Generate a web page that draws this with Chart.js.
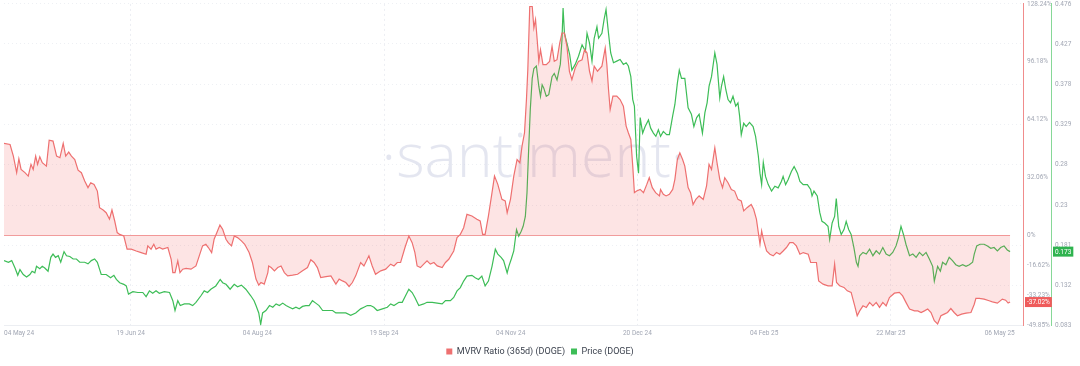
<!DOCTYPE html>
<html>
<head>
<meta charset="utf-8">
<script src="https://cdn.jsdelivr.net/npm/chart.js@4.4.1/dist/chart.umd.min.js"></script>
<style>
    html, body { margin: 0; padding: 0; background: #fff; }
    #wrap { width: 1080px; height: 366px; position: relative; }
</style>
</head>
<body>
<div id="wrap"><canvas id="chart-line"></canvas></div>
<script>
// x = days since 04 May 24
var mvrvDays = [
    0, 2.2, 3.4, 4.6, 5.4, 6.2, 7.6, 8.8, 9.8, 10.6,
    11.5, 12.2, 13.0, 13.9, 15.4, 16.4, 17.8, 19.1, 20.3, 21.5,
    22.4, 23.5, 24.5, 25.7, 26.9, 28.1, 29.3, 30.5, 31.5, 32.7,
    33.9, 34.7, 36.0, 37.1, 38.3, 39.2, 40.2, 41.1, 42.0, 43.5,
    44.7, 46.2, 48.0, 49.8, 51.6, 52.2, 53.4, 54.4, 55.2, 56.4,
    57.6, 59.5, 60.7, 61.3, 62.1, 63.1, 63.9, 64.9, 66.1, 67.9,
    69.7, 70.9, 72.1, 73.3, 74.2, 75.4, 76.3, 77.3, 78.4, 79.4,
    80.6, 81.4, 82.6, 83.6, 84.8, 86.2, 87.4, 89.0, 90.2,
    91.5, 92.5, 93.3, 94.5, 95.8, 96.1, 97.0, 98.2, 99.4, 100.6,
    101.8, 103.0, 104.8, 106.6, 108.4, 110.2, 111.4, 112.6, 113.8, 115.0,
    116.9, 118.7, 120.5, 121.7, 122.9, 124.1, 125.3, 126.5, 127.7, 129.5,
    130.7, 132.5, 133.7, 134.9, 136.8, 138.6, 140.4, 141.6, 142.8, 144.0,
    145.6, 147.0, 148.2, 149.2, 150.0, 151.2, 152.4, 153.6, 154.8, 156.1,
    157.3, 159.1, 160.3, 161.5, 163.3, 164.5, 165.7, 166.9, 168.1, 169.9,
    171.7, 172.9, 173.8, 174.7, 175.9, 177.2, 178.1, 179.3, 180.8, 182.0,
    182.7, 183.3, 183.9, 185.1, 186.3, 187.3, 188.1, 189.0, 189.7, 190.2,
    190.9, 191.8, 192.4, 193.0, 193.6, 194.2, 194.8, 195.7, 196.9, 198.1,
    199.0, 199.8, 200.8, 201.8, 202.6, 203.5, 204.4, 205.3, 206.2, 207.4,
    208.6, 209.9, 210.8, 211.7, 212.6, 213.5, 214.3, 215.5, 217.1, 218.3,
    218.9, 219.5, 220.1, 221.1, 222.5, 223.7, 224.9, 225.9, 226.7, 227.6,
    228.3, 228.9, 229.7, 231.0, 232.2, 233.4, 234.3, 235.4, 236.6, 238.0,
    238.4, 239.4, 240.4, 241.6, 242.8, 243.6, 244.5, 245.4, 246.4, 247.2,
    248.4, 249.3, 250.2, 251.2, 252.4, 253.9, 255.1, 256.0, 256.9, 258.1,
    258.9, 259.9, 260.9, 261.7, 262.9, 264.1, 265.3, 266.5, 267.7, 268.6,
    269.8, 271.3, 272.2, 273.2,
    273.9, 274.5, 275.1, 275.7, 276.9, 278.1, 279.3, 280.5, 281.7, 282.9,
    284.1, 285.3, 286.5, 287.7, 289.0, 290.2, 292.0, 292.9, 293.8, 295.0,
    295.8, 297.4, 299.2, 300.7, 301.6, 302.3, 303.4, 305.0, 306.2, 307.6,
    308.9, 309.8, 310.7, 311.9, 313.1, 314.3, 315.5, 316.7, 317.9, 319.1,
    320.3, 321.5, 323.3, 325.1, 326.3, 327.5, 328.8, 330.6, 331.8, 333.0,
    334.2, 335.4, 336.6, 337.8, 339.0, 340.2, 341.4, 342.6, 343.8, 345.0,
    346.2, 347.7, 349.3, 351.1, 352.3, 352.9, 354.1, 355.9, 357.7, 358.9,
    360.7, 362.5, 363.7, 364.6, 365.3
];
var mvrvValues = [
    50.9, 50.3, 43.9, 34.7, 42.4, 36.5, 34.7, 32.8, 39.3, 36.5,
    43.9, 39.3, 43.5, 40.2, 38.3, 52.7, 52.2, 43.9, 43.0, 50.9,
    43.9, 46.1, 43.9, 42.0, 36.1, 34.7, 30.1, 26.4, 29.1, 28.2,
    24.5, 15.3, 14.0, 12.5, 8.9, 14.0, 7.9, 1.5, 0.5, -0.4,
    -7.7, -7.7, -8.7, -9.6, -10.5, -5.9, -7.7, -5.0, -7.7, -6.8,
    -7.7, -6.8, -13.3, -20.7, -20.7, -14.2, -20.7, -18.8, -18.4, -18.8,
    -17.0, -11.4, -5.9, -5.0, -6.8, -9.6, -2.2, 1.5, 5.7, 3.3,
    -2.2, -4.1, -5.9, -0.4, -1.3, -3.1, -5.0, -9.6, -15.1,
    -24.3, -27.7, -26.2, -27.1, -20.7, -17.0, -17.9, -19.7, -17.9, -17.0,
    -20.7, -22.5, -22.1, -21.6, -19.7, -17.9, -13.6, -15.1, -17.9, -23.4,
    -22.9, -22.5, -27.1, -24.3, -25.3, -26.2, -28.4, -26.2, -22.5, -15.1,
    -17.0, -11.4, -17.0, -21.6, -19.7, -18.8, -16.0, -17.0, -15.1, -15.1,
    -6.8, -0.4, -4.1, -9.6, -17.0, -17.9, -16.0, -14.2, -16.0, -15.1,
    -17.0, -17.9, -15.1, -13.3, -8.7, -1.3, 0.5, 4.2, 11.6, 10.7,
    8.9, 7.9, 0.5, 0.5, 10.7, 23.6, 32.8, 28.2, 19.9, 19.0,
    12.5, 16.2, 19.9, 32.8, 42.0, 40.2, 49.4, 56.8, 75.2, 91.8,
    126.8, 126.8, 114.9, 119.5, 108.4, 96.4, 102.9, 94.6, 94.6, 96.4,
    104.7, 96.4, 97.3, 106.6, 112.1, 112.1, 104.7, 90.9, 86.3, 92.7,
    96.4, 97.3, 102.9, 101.0, 90.9, 85.4, 93.7, 90.9, 93.7, 103.8,
    94.6, 80.8, 69.7, 77.1, 77.1, 75.2, 71.5, 60.5, 56.8, 53.1,
    38.3, 23.6, 24.5, 25.4, 23.6, 28.2, 31.9, 26.4, 23.6, 21.8,
    25.4, 22.7, 21.8, 22.7, 25.4, 31.0, 42.0, 45.7, 42.0, 38.3,
    26.4, 23.6, 17.1, 19.9, 21.8, 19.9, 27.3, 39.3, 36.5, 48.5,
    40.2, 31.0, 26.4, 31.9, 29.1, 25.4, 24.5, 19.9, 19.0, 13.5,
    15.3, 17.1, 14.4, 8.9,
    1.5, -5.0, 2.4, -2.2, -8.7, -10.5, -11.4, -9.6, -10.5, -8.7,
    -6.8, -4.1, -4.1, -5.9, -10.5, -9.6, -10.5, -15.1, -15.1, -15.1,
    -25.3, -27.1, -28.0, -28.0, -16.0, -26.2, -28.0, -28.9, -30.8, -31.7,
    -39.1, -44.6, -41.9, -39.1, -40.0, -37.2, -39.1, -37.2, -40.0, -37.2,
    -39.1, -34.5, -32.1, -31.7, -33.6, -37.2, -40.9, -41.9, -41.9, -42.8,
    -41.9, -40.9, -42.8, -47.4, -49.2, -44.6, -43.7, -42.8, -40.6, -42.8,
    -44.6, -43.7, -43.2, -42.8, -38.2, -35.0, -35.0, -35.4, -36.3, -36.9,
    -37.6, -35.4, -36.0, -37.6, -37.02
];

var priceDays = [
    0, 1.6, 2.8, 4.0, 5.0, 5.8, 7.0, 8.2, 9.4, 10.2,
    11.2, 11.8, 13.0, 13.9, 14.8, 16.0, 17.0, 17.8, 18.7, 19.7,
    20.6, 21.8, 22.7, 23.9, 25.1, 26.3, 27.5, 29.3, 30.5, 31.7,
    32.9, 33.9, 35.3, 37.1, 38.7, 39.9, 40.8, 42.0, 43.5, 44.4,
    45.2, 46.8, 48.6, 50.4, 51.6, 52.8, 54.0, 55.2, 56.4, 58.2,
    60.1, 61.3, 62.1, 63.1, 64.0, 65.5, 67.3, 68.5, 69.7, 71.5,
    72.7, 73.9, 75.1, 76.9, 78.5, 79.4, 80.6, 82.1, 83.6, 84.8,
    86.2, 87.8, 89.6, 90.8,
    91.5, 92.5, 93.2, 93.9, 95.1, 96.4, 97.6, 98.8, 100.0, 101.2,
    102.4, 103.6, 104.8, 106.0, 107.2, 108.4, 109.6, 110.8, 112.0, 113.2,
    114.4, 115.7, 117.5, 119.3, 120.5, 121.7, 122.9, 124.1, 125.9, 127.7,
    129.5, 130.7, 131.9, 133.1, 134.3, 135.5, 137.4, 139.2, 140.4, 141.6,
    143.4, 144.6, 145.8, 147.0, 148.2, 149.2, 150.6, 152.4, 153.6, 155.5,
    157.3, 159.1, 160.3, 162.1, 163.3, 164.5, 165.7, 166.9, 168.1, 169.9,
    171.1, 172.3, 173.5, 174.7, 175.9, 177.2, 178.4, 179.3, 180.5, 181.4,
    182.7, 183.3, 184.2, 185.1, 186.1, 186.9, 187.8, 188.5, 189.3, 189.9,
    190.5, 191.1, 191.8, 192.4, 193.3, 194.2, 194.8, 195.4, 196.0, 196.9,
    197.8, 199.0, 199.8, 200.8, 201.4, 202.0, 202.6, 203.0, 203.5, 204.4,
    205.4, 206.2, 207.4, 208.6, 209.9, 211.1, 211.7, 212.6, 213.5, 214.3,
    215.3, 215.9, 217.1, 217.9, 218.6, 219.5, 220.3, 221.3, 222.5, 223.7,
    224.9, 225.9, 226.7, 227.6, 228.3, 228.9, 229.7, 230.4, 231.0, 231.9,
    232.8, 234.0, 234.8, 235.8, 236.7, 237.6, 238.4, 239.4, 240.6, 241.6,
    242.8, 243.6, 244.5, 245.2, 246.0, 247.2, 248.4, 249.6, 250.5, 251.5,
    252.4, 253.6, 254.5, 255.3, 256.0, 256.9, 258.1, 258.9, 259.9, 260.5,
    261.3, 262.1, 262.9, 263.8, 264.7, 265.7, 266.5, 267.1, 267.7, 268.6,
    269.5, 270.7, 272.0, 272.9,
    273.9, 274.5, 275.1, 275.7, 276.5, 277.5, 278.7, 279.9, 281.1, 282.3,
    282.9, 283.8, 284.7, 285.9, 286.9, 288.1, 289.0, 290.2, 291.7, 292.9,
    293.4, 294.1, 295.3, 296.2, 297.0, 298.0, 299.2, 299.8, 300.7, 301.6,
    302.2, 303.1, 304.0, 305.0, 305.8, 306.7, 307.6, 308.6, 309.5, 310.1,
    310.7, 311.9, 313.1, 314.3, 315.5, 316.7, 317.9, 319.1, 320.3, 321.5,
    322.7, 323.9, 324.8, 325.7, 326.6, 327.5, 328.8, 330.0, 331.2, 332.4,
    333.6, 334.8, 336.0, 337.2, 337.8, 339.0, 340.0, 340.8, 342.0, 343.2,
    344.4, 345.6, 346.8, 348.1, 349.3, 350.5, 351.7, 352.3, 353.2, 354.4,
    355.9, 357.1, 358.3, 359.5, 360.7, 361.9, 363.1, 364.3, 365.3
];
var priceValues = [
    0.162, 0.160, 0.162, 0.153, 0.144, 0.151, 0.145, 0.142, 0.145, 0.149,
    0.147, 0.155, 0.152, 0.155, 0.153, 0.149, 0.166, 0.170, 0.166, 0.168,
    0.160, 0.173, 0.168, 0.167, 0.164, 0.164, 0.160, 0.160, 0.158, 0.162,
    0.164, 0.160, 0.145, 0.145, 0.141, 0.144, 0.139, 0.135, 0.133, 0.131,
    0.121, 0.124, 0.123, 0.123, 0.118, 0.125, 0.122, 0.125, 0.122, 0.124,
    0.123, 0.113, 0.101, 0.113, 0.107, 0.109, 0.109, 0.107, 0.111, 0.119,
    0.125, 0.123, 0.127, 0.131, 0.139, 0.135, 0.133, 0.127, 0.133, 0.130,
    0.132, 0.127, 0.119, 0.113,
    0.107, 0.098, 0.084, 0.098, 0.101, 0.107, 0.105, 0.109, 0.107, 0.110,
    0.107, 0.105, 0.103, 0.105, 0.103, 0.106, 0.107, 0.107, 0.113, 0.110,
    0.107, 0.101, 0.101, 0.101, 0.098, 0.098, 0.098, 0.098, 0.095, 0.098,
    0.103, 0.105, 0.107, 0.107, 0.105, 0.101, 0.103, 0.105, 0.109, 0.107,
    0.111, 0.111, 0.119, 0.127, 0.123, 0.117, 0.107, 0.109, 0.111, 0.111,
    0.110, 0.109, 0.113, 0.113, 0.117, 0.125, 0.129, 0.137, 0.143, 0.144,
    0.141, 0.139, 0.143, 0.131, 0.137, 0.155, 0.176, 0.170, 0.166, 0.162,
    0.147, 0.155, 0.164, 0.174, 0.200, 0.192, 0.198, 0.204, 0.216, 0.245,
    0.298, 0.347, 0.385, 0.397, 0.400, 0.375, 0.363, 0.377, 0.373, 0.363,
    0.365, 0.387, 0.391, 0.383, 0.393, 0.402, 0.432, 0.471, 0.440, 0.428,
    0.414, 0.395, 0.402, 0.412, 0.426, 0.418, 0.440, 0.428, 0.406, 0.434,
    0.448, 0.434, 0.440, 0.457, 0.469, 0.440, 0.416, 0.404, 0.406, 0.408,
    0.402, 0.404, 0.400, 0.387, 0.359, 0.351, 0.290, 0.269, 0.337, 0.318,
    0.326, 0.334, 0.324, 0.318, 0.314, 0.322, 0.314, 0.320, 0.316, 0.316,
    0.339, 0.353, 0.379, 0.395, 0.385, 0.385, 0.349, 0.341, 0.326, 0.337,
    0.341, 0.318, 0.343, 0.355, 0.375, 0.387, 0.416, 0.402, 0.361, 0.375,
    0.387, 0.371, 0.359, 0.355, 0.363, 0.351, 0.355, 0.339, 0.316, 0.330,
    0.326, 0.331, 0.326, 0.314,
    0.290, 0.269, 0.255, 0.282, 0.265, 0.255, 0.247, 0.253, 0.251, 0.259,
    0.265, 0.255, 0.261, 0.271, 0.277, 0.269, 0.259, 0.255, 0.255, 0.249,
    0.241, 0.247, 0.241, 0.221, 0.210, 0.208, 0.204, 0.188, 0.208, 0.216,
    0.238, 0.204, 0.194, 0.200, 0.210, 0.200, 0.194, 0.178, 0.160, 0.155,
    0.168, 0.172, 0.170, 0.176, 0.168, 0.174, 0.170, 0.178, 0.170, 0.168,
    0.172, 0.180, 0.190, 0.204, 0.194, 0.182, 0.168, 0.170, 0.166, 0.172,
    0.168, 0.172, 0.164, 0.155, 0.137, 0.155, 0.149, 0.160, 0.157, 0.166,
    0.162, 0.157, 0.155, 0.157, 0.155, 0.157, 0.160, 0.170, 0.180, 0.182,
    0.182, 0.180, 0.177, 0.178, 0.174, 0.178, 0.180, 0.175, 0.173
];

var tickDays = [0, 46, 92, 138, 184, 230, 276, 322, 367];
var tickLabels = ['04 May 24', '19 Jun 24', '04 Aug 24', '19 Sep 24', '04 Nov 24', '20 Dec 24', '04 Feb 25', '22 Mar 25', '06 May 25'];
var gridDays = [46, 138, 230, 322];
var mvrvTicks = [-49.85, -33.23, -16.62, 0, 32.06, 64.12, 96.18, 128.24];
var priceTicks = [0.083, 0.132, 0.181, 0.23, 0.28, 0.329, 0.378, 0.427, 0.476];

function toPoints(xs, ys) {
    var pts = [];
    for (var i = 0; i < Math.min(xs.length, ys.length); i++) {
        pts.push({x: xs[i], y: ys[i]});
    }
    return pts;
}

var axisFont = {family: 'Roboto', size: 6.5};
var axisColor = '#a2a7b4';

// big faint logo behind the lines
var watermark = {
    id: 'watermark',
    beforeDatasetsDraw: function (chart) {
        var ctx = chart.ctx, area = chart.chartArea;
        ctx.save();
        ctx.font = '300 61px "Open Sans"';
        ctx.fillStyle = 'rgba(206,210,228,0.55)';
        ctx.textAlign = 'center';
        ctx.textBaseline = 'alphabetic';
        ctx.fillText('\u00b7santiment\u00b7', (area.left + area.right) / 2 + 20, 177);
        ctx.restore();
    }
};

// 0% baseline plus last value tags on the axes
var extras = {
    id: 'extras',
    beforeDatasetsDraw: function (chart) {
        var ctx = chart.ctx, y = chart.scales.y, x = chart.scales.x;
        var y0 = Math.round(y.getPixelForValue(0)) + 0.5;
        ctx.save();
        ctx.strokeStyle = '#f2a0a0';
        ctx.lineWidth = 1;
        ctx.beginPath();
        ctx.moveTo(chart.chartArea.left, y0);
        ctx.lineTo(x.getPixelForValue(mvrvDays[mvrvDays.length - 1]), y0);
        ctx.stroke();
        ctx.restore();
    },
    afterDraw: function (chart) {
        var ctx = chart.ctx;
        var tags = [
            {scale: chart.scales.y, value: mvrvValues[mvrvValues.length - 1], text: mvrvValues[mvrvValues.length - 1].toFixed(2) + '%', color: '#ef5b5b'},
            {scale: chart.scales.y1, value: priceValues[priceValues.length - 1], text: String(priceValues[priceValues.length - 1]), color: '#2fb34f'}
        ];
        ctx.save();
        ctx.font = '6.5px Roboto';
        ctx.textBaseline = 'middle';
        tags.forEach(function (t) {
            var py = t.scale.getPixelForValue(t.value);
            var w = ctx.measureText(t.text).width + 4;
            var left = t.scale.left + 2;
            ctx.fillStyle = t.color;
            ctx.fillRect(left, py - 5, w, 10);
            ctx.fillStyle = '#fff';
            ctx.fillText(t.text, left + 2, py + 0.5);
        });
        ctx.restore();
    }
};

var ctx1 = document.getElementById('chart-line').getContext('2d');

var myChart = new Chart(ctx1, {
    type: 'line',
    data: {
        datasets: [
            {
                label: 'MVRV Ratio (365d) (DOGE)',
                data: toPoints(mvrvDays, mvrvValues),
                yAxisID: 'y',
                borderColor: '#ee7070',
                backgroundColor: 'rgba(242,90,90,0.16)',
                borderWidth: 1.2,
                pointRadius: 0,
                tension: 0,
                fill: 'origin'
            },
            {
                label: 'Price (DOGE)',
                data: toPoints(priceDays, priceValues),
                yAxisID: 'y1',
                borderColor: '#3dbd57',
                backgroundColor: '#3dbd57',
                borderWidth: 1.2,
                pointRadius: 0,
                tension: 0,
                fill: false
            }
        ]
    },
    options: {
        responsive: true,
        maintainAspectRatio: false,
        animation: false,
        layout: {padding: 0},
        plugins: {
            tooltip: {enabled: false},
            legend: {
                display: true,
                position: 'bottom',
                labels: {
                    boxWidth: 6,
                    boxHeight: 6,
                    padding: 6,
                    color: '#3b414d',
                    font: {family: 'Roboto', size: 9},
                    generateLabels: function (chart) {
                        return chart.data.datasets.map(function (ds, i) {
                            return {
                                text: ds.label,
                                fillStyle: ds.borderColor,
                                strokeStyle: ds.borderColor,
                                lineWidth: 0,
                                datasetIndex: i,
                                fontColor: '#3b414d'
                            };
                        });
                    }
                }
            }
        },
        scales: {
            x: {
                type: 'linear',
                min: 0,
                max: 370,
                afterBuildTicks: function (scale) {
                    scale.ticks = tickDays.map(function (v) { return {value: v}; });
                },
                ticks: {
                    autoSkip: false,
                    maxRotation: 0,
                    align: 'inner',
                    padding: 4,
                    color: axisColor,
                    font: axisFont,
                    callback: function (v) { return tickLabels[tickDays.indexOf(v)]; }
                },
                grid: {
                    drawTicks: false,
                    color: function (c) {
                        return c.tick && gridDays.indexOf(c.tick.value) >= 0 ? '#eceef3' : 'rgba(0,0,0,0)';
                    }
                },
                border: {display: true, color: '#eceef2', dash: [2, 3]}
            },
            y: {
                position: 'right',
                min: -49.85,
                max: 128.24,
                afterBuildTicks: function (scale) {
                    scale.ticks = mvrvTicks.map(function (v) { return {value: v}; });
                },
                afterFit: function (scale) { scale.width = 28; },
                ticks: {
                    padding: 0,
                    color: axisColor,
                    font: axisFont,
                    callback: function (v) { return v + '%'; }
                },
                // invisible tick marks push labels off the axis line without extra top padding
                grid: {drawOnChartArea: false, drawTicks: true, tickLength: 4, tickColor: 'rgba(0,0,0,0)'},
                border: {display: true, color: '#f08c8c'}
            },
            y1: {
                position: 'right',
                min: 0.083,
                max: 0.476,
                afterBuildTicks: function (scale) {
                    scale.ticks = priceTicks.map(function (v) { return {value: v}; });
                },
                afterFit: function (scale) { scale.width = 29; },
                ticks: {
                    padding: 0,
                    color: axisColor,
                    font: axisFont,
                    callback: function (v) { return String(v); }
                },
                grid: {drawOnChartArea: true, drawTicks: true, tickLength: 4, tickColor: 'rgba(0,0,0,0)', color: '#eef0f4'},
                border: {display: true, color: '#86d897', dash: [1, 3]}
            }
        }
    },
    plugins: [watermark, extras]
});
</script>
</body>
</html>
